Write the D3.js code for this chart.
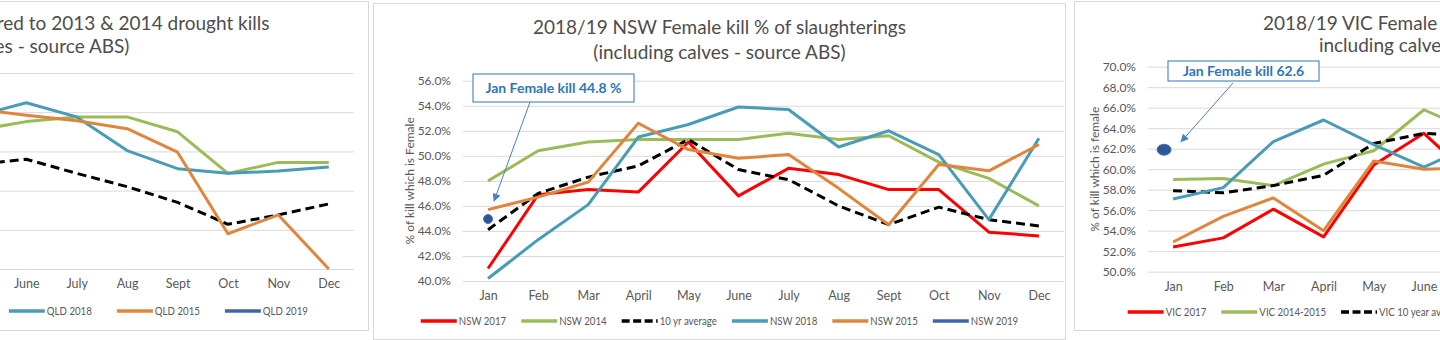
<!DOCTYPE html>
<meta charset="utf-8">
<style>
  body { margin: 0; background: #fff; }
  svg { display: block; font-family: Lato, "Open Sans", sans-serif; }
</style>
<body>
<div id="chart"></div>
<script src="https://d3js.org/d3.v7.min.js"></script>
<script>

// Data ------------------------------------------------------------

var months = ["Jan", "Feb", "Mar", "April", "May", "June", "July", "Aug", "Sept", "Oct", "Nov", "Dec"];

// QLD (left panel, Jan - Apr are outside the picture)
var qld2013 = [48.6, 50.1, 51.2, 52.4, null, null, null, null, null, null, null, null];
var qld2014 = [50.2, 51.0, 51.8, 52.3, 52.7, 53.8, 54.4, 54.4, 52.5, 47.2, 48.6, 48.6];
var qldAvg  = [44.5, 45.6, 46.8, 47.7, 48.3, 49.0, 47.2, 45.5, 43.5, 40.7, 41.9, 43.3];
var qld2018 = [49.8, 51.2, 52.6, 53.9, 54.5, 56.2, 54.4, 50.1, 47.8, 47.2, 47.5, 48.0];
var qld2015 = [51.5, 53.0, 54.2, 55.1, 55.4, 54.6, 53.9, 52.9, 49.9, 39.5, 41.9, 35.0];
var qld2019 = [45.2, null, null, null, null, null, null, null, null, null, null, null];

// NSW (middle panel)
var nsw2017 = [41.0, 46.9, 47.3, 47.1, 51.1, 46.8, 49.0, 48.5, 47.3, 47.3, 43.9, 43.6];
var nsw2014 = [48.0, 50.4, 51.1, 51.3, 51.3, 51.3, 51.8, 51.3, 51.6, 49.5, 48.2, 46.0];
var nswAvg  = [44.1, 47.0, 48.3, 49.2, 51.3, 48.9, 48.1, 46.0, 44.5, 45.9, 44.9, 44.4];
var nsw2018 = [40.2, 43.3, 46.1, 51.5, 52.5, 53.9, 53.7, 50.7, 52.0, 50.1, 44.9, 51.4];
var nsw2015 = [45.7, 46.7, 47.9, 52.6, 50.5, 49.8, 50.1, 47.4, 44.5, 49.3, 48.8, 50.9];
var nsw2019 = [44.95, null, null, null, null, null, null, null, null, null, null, null];

// VIC (right panel, Aug - Dec are outside the picture)
var vic2017 = [52.4, 53.3, 56.1, 53.4, 60.4, 63.5, 59.0, 57.6, 58.3, 56.8, 55.2, 54.3];
var vic2014 = [59.0, 59.1, 58.4, 60.5, 61.8, 65.8, 63.6, 62.1, 61.4, 60.2, 59.5, 58.7];
var vicAvg  = [57.9, 57.7, 58.4, 59.4, 62.5, 63.5, 63.2, 62.0, 60.8, 59.6, 58.9, 58.2];
var vic2018 = [57.1, 58.2, 62.7, 64.8, 62.4, 60.2, 62.4, 63.0, 61.7, 60.1, 59.4, 60.3];
var vic2015 = [52.9, 55.4, 57.2, 54.0, 60.8, 60.0, 60.1, 58.9, 57.6, 56.2, 55.8, 56.5];
var vic2019 = [61.9, null, null, null, null, null, null, null, null, null, null, null];

// Styles ----------------------------------------------------------

var RED = "#ff0000", GREEN = "#9bbb59", BLACK = "#000000",
    TEAL = "#4a9bb5", ORANGE = "#e0853d", BLUE = "#3f67a8";
var GRID = "#d9d9d9", TEXT = "#595959", TITLE = "#4d4d4d", NOTE = "#2e75b6";
var LEGEND_SQUEEZE = 0.88;   // Lato is wider than the original's Calibri

var panels = [
  {
    box: [-368, 368.5, 1.5, 330.5],
    plot: {left: -251, right: 354, top: 73, bottom: 269},
    domain: [35, 60], step: 5,
    title: ["2018/19 QLD Female kill % compared to 2013 & 2014 drought kills",
            "(including calves - source ABS)"],
    titleY: [23, 46], titleDx: [-13, 3],
    yTitle: "% of kill which is Female", yTitleX: -330,
    legendY: 311, legendGap: 25,
    series: [
      {name: "QLD 2013", values: qld2013, color: RED},
      {name: "QLD 2014", values: qld2014, color: GREEN},
      {name: "QLD avg", values: qldAvg, color: BLACK, dash: true},
      {name: "QLD 2018", values: qld2018, color: TEAL},
      {name: "QLD 2015", values: qld2015, color: ORANGE},
      {name: "QLD 2019", values: qld2019, color: BLUE, dot: [4, 4, 0]}
    ]
  },
  {
    box: [373.5, 1065.5, 3.5, 339.5],
    plot: {left: 463, right: 1064, top: 80.7, bottom: 281},
    domain: [40, 56], step: 2,
    title: ["2018/19 NSW Female kill % of slaughterings",
            "(including calves - source ABS)"],
    titleY: [27, 52], titleDx: [0, 0],
    yTitle: "% of kill which is Female", yTitleX: 410,
    legendY: 321, legendGap: 15,
    note: {text: "Jan Female kill 44.8 %", box: [473, 634, 74, 102], from: [530, 102], dx: 6, dy: -18},
    series: [
      {name: "NSW 2017", values: nsw2017, color: RED},
      {name: "NSW 2014", values: nsw2014, color: GREEN},
      {name: "10 yr average", values: nswAvg, color: BLACK, dash: true},
      {name: "NSW 2018", values: nsw2018, color: TEAL},
      {name: "NSW 2015", values: nsw2015, color: ORANGE},
      {name: "NSW 2019", values: nsw2019, color: BLUE, dot: [4.5, 4.5, 0]}
    ]
  },
  {
    box: [1074.5, 1824.5, 1.5, 330.5],
    plot: {left: 1148, right: 1750, top: 66.7, bottom: 271.7},
    domain: [50, 70], step: 2,
    title: ["2018/19 VIC Female kill % of slaughterings (",
            "including calves - source ABS)"],
    titleY: [23, 45], titleDx: [-2, -7],
    yTitle: "% of kill which is female", yTitleX: 1095,
    legendY: 312, legendGap: 15,
    note: {text: "Jan Female kill 62.6", box: [1168, 1319, 61, 81], from: [1233, 83], dx: 8, dy: -8},
    series: [
      {name: "VIC 2017", values: vic2017, color: RED},
      {name: "VIC 2014-2015", values: vic2014, color: GREEN},
      {name: "VIC 10 year average", values: vicAvg, color: BLACK, dash: true},
      {name: "VIC 2018", values: vic2018, color: TEAL},
      {name: "VIC 2015-2016", values: vic2015, color: ORANGE},
      {name: "VIC 2019", values: vic2019, color: BLUE, dot: [7, 5.5, -9]}
    ]
  }
];

// Chart -----------------------------------------------------------

var svg = d3.select("#chart").append("svg")
    .attr("width", 1440)
    .attr("height", 340);

svg.append("rect").attr("width", 1440).attr("height", 340).attr("fill", "#fff");

var defs = svg.append("defs");
defs.append("marker")
    .attr("id", "arrow")
    .attr("viewBox", "0 0 10 10")
    .attr("refX", 9).attr("refY", 5)
    .attr("markerWidth", 9).attr("markerHeight", 8)
    .attr("markerUnits", "userSpaceOnUse")
    .attr("orient", "auto")
  .append("path")
    .attr("d", "M0,0 L10,5 L0,10 z")
    .attr("fill", "#4a7fc1");

panels.forEach(drawPanel);

function drawPanel(p, pi) {
  var g = svg.append("g");
  var cx = (p.box[0] + p.box[1]) / 2;

  g.append("rect")
      .attr("x", p.box[0]).attr("y", p.box[2])
      .attr("width", p.box[1] - p.box[0])
      .attr("height", p.box[3] - p.box[2])
      .attr("fill", "#fff")
      .attr("stroke", GRID);

  var x = d3.scalePoint().domain(months).range([p.plot.left, p.plot.right]).padding(0.5);
  var y = d3.scaleLinear().domain(p.domain).range([p.plot.bottom, p.plot.top]);
  var ticks = d3.range(p.domain[0], p.domain[1] + 0.001, p.step);

  // y axis + gridlines
  var yAxis = g.append("g")
      .attr("transform", "translate(" + p.plot.left + ",0)")
      .call(d3.axisLeft(y).tickValues(ticks)
        .tickSize(-(p.plot.right - p.plot.left))
        .tickPadding(12)
        .tickFormat(function(d) { return d.toFixed(1) + "%"; }));
  yAxis.select(".domain").remove();
  yAxis.selectAll(".tick line").attr("stroke", GRID);
  yAxis.selectAll(".tick text")
      .attr("fill", TEXT)
      .style("font-size", "12px")
      .style("font-family", "Lato, sans-serif");

  // x axis
  var xAxis = g.append("g")
      .attr("transform", "translate(0," + p.plot.bottom + ")")
      .call(d3.axisBottom(x).tickSize(0).tickPadding(10));
  xAxis.select(".domain").remove();
  xAxis.selectAll(".tick text")
      .attr("fill", TEXT)
      .style("font-size", "12.5px")
      .style("font-family", "Lato, sans-serif");

  // titles
  g.selectAll(".title")
    .data(p.title)
    .enter().append("text")
      .attr("x", function(d, i) { return cx + p.titleDx[i]; })
      .attr("y", function(d, i) { return p.titleY[i]; })
      .attr("dy", "0.35em")
      .attr("text-anchor", "middle")
      .attr("fill", TITLE)
      .style("font-size", "19px")
      .text(function(d) { return d; });

  g.append("text")
      .attr("transform", "translate(" + p.yTitleX + "," + (p.plot.top + p.plot.bottom) / 2 + ") rotate(-90)")
      .attr("dy", "0.35em")
      .attr("text-anchor", "middle")
      .attr("fill", TEXT)
      .style("font-size", "12px")
      .text(p.yTitle);

  // lines
  var line = d3.line()
      .defined(function(d) { return d != null; })
      .x(function(d, i) { return x(months[i]); })
      .y(function(d) { return y(d); });

  var plotClip = "clip-" + pi;
  defs.append("clipPath").attr("id", plotClip)
    .append("rect")
      .attr("x", p.box[0]).attr("y", p.box[2])
      .attr("width", p.box[1] - p.box[0]).attr("height", p.box[3] - p.box[2]);

  var lines = g.append("g").attr("clip-path", "url(#" + plotClip + ")");
  p.series.forEach(function(s) {
    if (s.dot) {
      s.values.forEach(function(v, i) {
        if (v == null) return;
        lines.append("ellipse")
            .attr("cx", x(months[i]) + s.dot[2]).attr("cy", y(v))
            .attr("rx", s.dot[0]).attr("ry", s.dot[1])
            .attr("fill", "#2f5597")
            .attr("stroke", "#4a6fb5")
            .attr("stroke-width", 1);
      });
      return;
    }
    lines.append("path")
        .datum(s.values)
        .attr("fill", "none")
        .attr("stroke", s.color)
        .attr("stroke-width", 3)
        .attr("stroke-linejoin", "round")
        .attr("stroke-dasharray", s.dash ? "9,5" : null)
        .attr("d", line);
  });

  // annotation
  if (p.note) {
    var n = p.note;
    g.append("rect")
        .attr("x", n.box[0]).attr("y", n.box[2])
        .attr("width", n.box[1] - n.box[0]).attr("height", n.box[3] - n.box[2])
        .attr("fill", "#fff")
        .attr("stroke", NOTE);
    g.append("text")
        .attr("x", (n.box[0] + n.box[1]) / 2)
        .attr("y", (n.box[2] + n.box[3]) / 2)
        .attr("dy", "0.35em")
        .attr("text-anchor", "middle")
        .attr("fill", NOTE)
        .style("font-size", "14px")
        .style("font-weight", "bold")
        .text(n.text);
    var dotSeries = p.series[p.series.length - 1];
    g.append("line")
        .attr("x1", n.from[0]).attr("y1", n.from[1])
        .attr("x2", x(months[0]) + n.dx)
        .attr("y2", y(dotSeries.values[0]) + n.dy)
        .attr("stroke", "#4a7fc1")
        .attr("stroke-width", 1)
        .attr("marker-end", "url(#arrow)");
  }

  // legend
  var leg = g.append("g").attr("transform", "translate(0," + p.legendY + ")");
  var items = leg.selectAll(".item")
    .data(p.series)
    .enter().append("g");
  items.append("line")
      .attr("x1", 0).attr("x2", 36)
      .attr("stroke", function(d) { return d.color; })
      .attr("stroke-width", 3.5)
      .attr("stroke-dasharray", function(d) { return d.dash ? "8,3.5" : null; });
  items.append("text")
      .attr("transform", "translate(38,0) scale(" + LEGEND_SQUEEZE + ",1)")
      .attr("dy", "0.35em")
      .attr("fill", TEXT)
      .style("font-size", "11px")
      .text(function(d) { return d.name; });

  var widths = [];
  items.each(function() {
    widths.push(38 + LEGEND_SQUEEZE * d3.select(this).select("text").node().getComputedTextLength());
  });
  var total = d3.sum(widths) + p.legendGap * (widths.length - 1);
  var pos = cx - total / 2;
  items.attr("transform", function(d, i) {
    var t = "translate(" + pos + ",0)";
    pos += widths[i] + p.legendGap;
    return t;
  });
}

</script>
</body>
